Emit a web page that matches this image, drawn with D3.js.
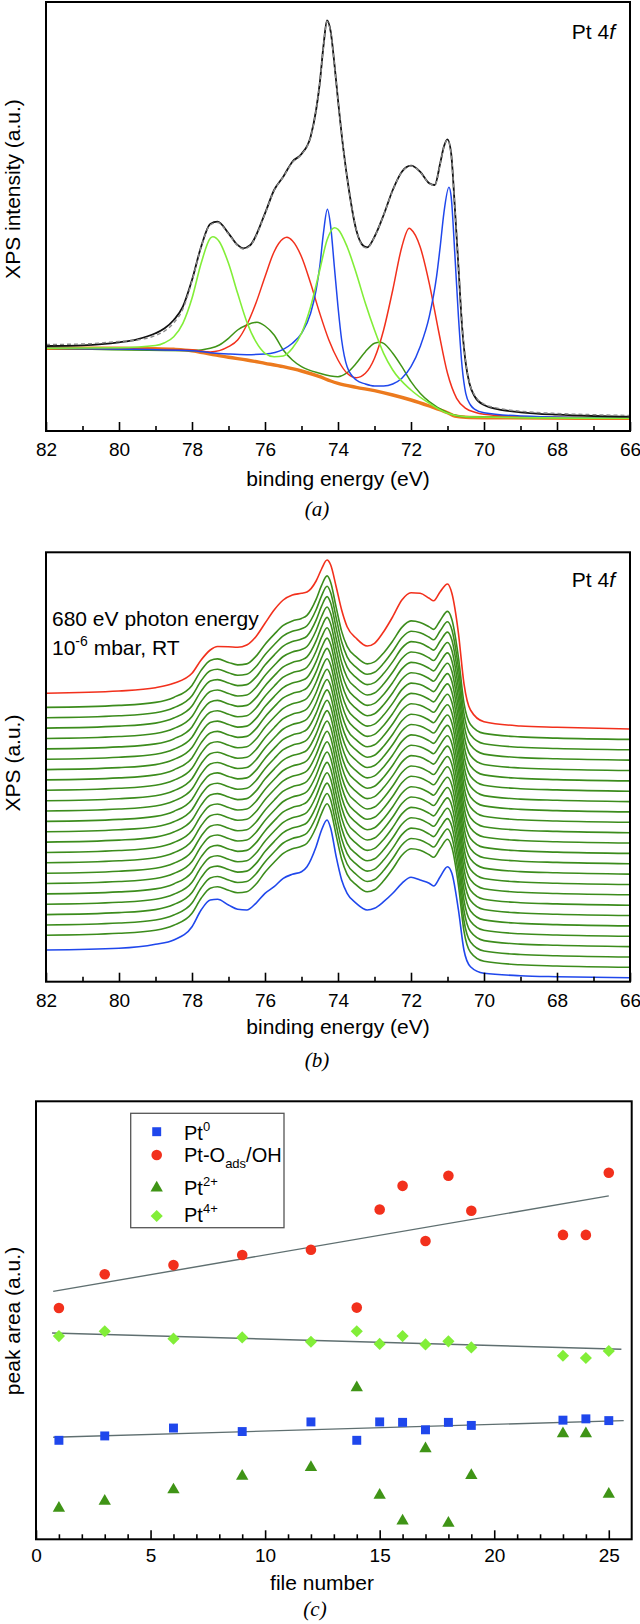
<!DOCTYPE html>
<html><head><meta charset="utf-8">
<script src="https://cdn.jsdelivr.net/npm/d3@7"></script>
<style>body{margin:0;background:#fff}</style>
</head><body>
<svg id="chart" width="640" height="1624" xmlns="http://www.w3.org/2000/svg"></svg>
<script>
// ---------------- Panel (a): Pt 4f fit ----------------
const envE = [82,81,80,79.5,79,78.75,78.5,78.25,78,77.75,77.5,77.3,77.0,76.75,76.6,76.4,76.0,75.75,75.5,75.25,75.0,74.75,74.6,74.5,74.4,74.3,74.2,74.1,74.0,73.85,73.7,73.5,73.3,73.2,73.0,72.75,72.5,72.25,72.0,71.75,71.5,71.35,71.2,71.1,71.0,70.9,70.8,70.7,70.6,70.5,70.4,70.25,70.0,69.5,69.0,68,67,66];
const envI = [85,85.7,88.7,91.7,97.7,102.7,111,124.3,151,184.3,207,209.3,197.7,186,182.7,186,217.7,241,254.3,269.3,277,294.3,321,347.7,384.3,410.5,399.3,367.7,331,281,241,201,185,183.7,194.3,216,241,259.3,265.3,259.3,247.7,246,267.7,284.3,291.7,277.7,224.3,164.3,104.3,67.7,47.7,34.3,26,21,18.7,16.3,15,14.3];
const fitI = [86.5,87,89.5,91,95.5,100,108,122,150,184,206,208.5,197,185.5,182,185.5,217,240.5,254,268.5,276.5,294,320.5,347,384,409.5,398.5,367,330.5,281,241.5,201.5,184,183,194,216,240.5,259,265,259,247.5,245.5,267,284,291,277,224.5,165,106,69,48.5,35.5,27,22,19.8,17.5,16.3,15.5];
const bgE = [82,80,79,78.5,78,77.5,77,76.5,76,75.5,75,74.5,74.2,74,73.5,73,72.5,72,71.5,71,70.8,70.5,70,66];
const bgI = [82.7,82.7,82.3,81.7,80.3,77,73.7,71,67.7,64.3,60,54.3,50,47.7,43.7,40.3,36,31,25,18.3,15,13.7,13.3,12.7];
const pt4E = [82,80,79,78.75,78.5,78.25,78,77.75,77.5,77.43,77.25,77,76.75,76.5,76.25,76,75.75,75.5,75.25,75,74.75,74.5,74.3,74.1,74,73.75,73.5,73.25,73,72.75,72.5,72,71.5,71,70.5,66];
const pt4I = [82.7,83.3,85.5,88.3,94.3,107.7,132.7,167.7,192.7,194.3,189.3,167.7,137.7,109.3,89.3,77.7,74.3,75,82.7,97.7,124.3,161,191,203.3,201.7,184.3,157.7,127.7,101,77.7,61,41,27.7,17.7,14.3,12.7];
const ptOE = [82,78,77.5,77,76.75,76.5,76.25,76,75.75,75.5,75.4,75.25,75,74.75,74.5,74.25,74,73.75,73.5,73.25,73,72.75,72.5,72.25,72.05,72,71.75,71.5,71.25,71,70.75,70.5,70.25,70,69,66];
const ptOI = [82.7,81,79,84.3,91,106,127.7,154.3,179.3,192.3,193.7,190.3,174.3,147.7,117.7,91,71,57.7,53.3,57.7,72.7,101,141,184.3,202.7,201.7,184.3,147.7,101,57.7,32.7,22.7,18.7,16.7,14.3,12.7];
const pt0E = [82,78,77.5,77,76.5,76,75.5,75.25,75,74.75,74.6,74.5,74.4,74.29,74.2,74.1,74,73.9,73.75,73.5,73.25,73,72.75,72.5,72.25,72,71.75,71.5,71.3,71.2,71.1,70.96,70.9,70.8,70.7,70.6,70.5,70.37,70.25,70,69,66];
const pt0I = [82.7,80.3,78.3,77,76.3,77,81.7,87.7,97.7,117.7,141,164.3,197.7,221.7,204.3,164.3,124.3,91,64.3,51,47,45,45,47,52.7,64.3,84.3,114.3,154.3,184.3,217.7,243.7,234.3,177.7,114.3,64.3,37.7,26,21.7,18.3,15,12.7];
const pt2E = [82,78,77.5,77.25,77,76.75,76.5,76.22,76,75.75,75.5,75.25,75,74.5,74,73.75,73.5,73.25,73,72.85,72.75,72.5,72.25,72,71.75,71.5,71,70.5,66];
const pt2I = [82.7,80.3,82.7,86,92.7,101,106,108.7,105,96,81,71,64.3,57.7,54.3,58.3,67.7,79.3,87.7,88.7,87.7,77.7,64.3,49.3,37.7,29.3,18.3,14.3,12.7];

// ---------------- Panel (b): stacked spectra ----------------
const specE = [82,80,79,78.5,78,77.75,77.5,77.3,77.0,76.75,76.5,76.25,76.0,75.75,75.5,75.25,75.0,74.85,74.6,74.45,74.3,74.2,74.05,73.9,73.75,73.5,73.2,73.0,72.75,72.5,72.25,72.0,71.75,71.5,71.38,71.2,71.0,70.88,70.7,70.55,70.37,70.0,69.0,68.0,66.0];
const specFirst = [27.7,29.4,33.4,37.7,51,67.7,77.7,78.4,72.7,68.4,67.7,74.4,84.4,91,99.4,103.4,106,111,131,147.7,157.7,149.4,121,97.7,84.4,74.4,67.7,69.4,76,84.4,94.4,100.4,97.7,94.4,91.7,101,111,104.4,67.7,27.7,11,4.4,2,1,0];
const specMid = [32,34,37,42,54,69,79,80.5,77,74.5,75.5,83,95,105,114,118.5,121,124,140,154,163.5,157,132,108,93,82.5,75.5,77.5,86.5,98.5,112,118.5,117,112.5,110,119,128,120,82,36.5,15,6,2.5,1.3,0];
const specLast = [35.7,38,41.3,45.7,55.7,69,79,82.5,82.3,81.7,84,92.3,105.7,119,129,134,135.7,137,148,160,169,164,142.3,119,102.3,90.7,83,85.7,97.3,112.3,129,136.3,135.7,130.7,128.3,137.3,145,135.7,95.7,45.7,19,7.3,3,1.7,0];
const specOffset = [4.0,14.4,24.7,35.1,45.4,55.8,66.2,76.5,86.9,97.2,107.6,118.0,128.3,138.7,149.0,159.4,169.8,180.1,190.5,200.8,211.2,221.6,231.9,242.3,252.7];

// ---------------- Panel (c): peak areas ----------------
const fileNum = [1,3,6,9,12,14,15,16,17,18,19,23,24,25];
const areaPt0 = [22.6,23.6,25.4,24.6,26.8,22.6,26.8,26.7,25.0,26.7,26.0,27.2,27.5,27.1];
const areaPtO = [52.8,60.5,62.6,64.9,66.1,52.9,75.3,80.7,68.1,83.0,75.0,69.5,69.5,83.7];
const areaPt2 = [7.1,8.7,11.3,14.4,16.4,34.6,10.1,4.2,20.7,3.7,14.6,24.1,24.1,10.3];
const areaPt4 = [46.4,47.5,45.8,46.1,45.1,47.5,44.6,46.4,44.5,45.2,43.8,41.9,41.4,43.0];
const fitLineX0 = [0.75,25.65], fitLine0 = [23.3,27.1];
const fitLineXO = [0.75,25.0],  fitLineO = [56.6,78.4];
const fitLineX4 = [0.7,25.55],  fitLine4 = [47.1,43.4];
const xTicksEnergy = [82,80,78,76,74,72,70,68,66];
const xMinorEnergy = [81,79,77,75,73,71,69,67];
const xTicksFile = [0,5,10,15,20,25];

// ---------------- drawing ----------------
const svg = d3.select('#chart');
const SANS = "'Liberation Sans', Arial, Helvetica, sans-serif";
const SERIF = "'Liberation Serif', 'Times New Roman', serif";
const C = {blue:'#1f47ec', red:'#f2301c', dgreen:'#3f9416', lgreen:'#82ee38', orange:'#ec7a1e', bgreen:'#3c8c1c'};

function zipE(E, I){ return E.map((e,i)=>[e, I[i]]); }

function frame(g, L, R, T, B){
  g.append('rect').attr('x',L).attr('y',T).attr('width',R-L).attr('height',B-T)
   .attr('fill','none').attr('stroke','#000').attr('stroke-width',2);
}
function xAxis(g, x, B, major, minor, pad){
  const a = g.append('g').attr('transform',`translate(0,${B})`)
    .call(d3.axisBottom(x).tickValues(major).tickSize(-9).tickPadding(pad).tickFormat(d3.format('d')));
  a.select('.domain').remove();
  a.selectAll('line').attr('stroke','#000').attr('stroke-width',1.6);
  a.selectAll('text').attr('font-family',SANS).attr('font-size',19).attr('fill','#000');
  const m = g.append('g').attr('transform',`translate(0,${B})`)
    .call(d3.axisBottom(x).tickValues(minor).tickSize(-5).tickFormat(''));
  m.select('.domain').remove();
  m.selectAll('line').attr('stroke','#000').attr('stroke-width',1.6);
}
function text(g, x, y, s, opts={}){
  return g.append('text').attr('x',x).attr('y',y).text(s)
    .attr('font-family',opts.family||SANS).attr('font-size',opts.size||21)
    .attr('text-anchor',opts.anchor||'middle').attr('fill','#000')
    .attr('font-style',opts.style||'normal');
}
function ylabel(g, x, y, s){
  g.append('text').attr('transform',`translate(${x},${y}) rotate(-90)`).text(s)
   .attr('font-family',SANS).attr('font-size',21).attr('text-anchor','middle').attr('fill','#000');
}
function pt4f(g, x, y){
  const t = g.append('text').attr('x',x).attr('y',y).attr('font-family',SANS).attr('font-size',21).attr('text-anchor','end');
  t.append('tspan').text('Pt 4');
  t.append('tspan').attr('font-style','italic').text('f');
}

// ---- Panel a ----
{
  const L=46,R=630,T=2,B=431;
  const g = svg.append('g');
  const x = d3.scaleLinear().domain([82,66]).range([L,R]);
  const y = d3.scaleLinear().domain([0,429]).range([B,T]);
  const line = d3.line().x(d=>x(d[0])).y(d=>y(d[1])).curve(d3.curveMonotoneX);
  g.append('clipPath').attr('id','clipA').append('rect').attr('x',L).attr('y',T).attr('width',R-L).attr('height',B-T);
  const p = g.append('g').attr('clip-path','url(#clipA)');
  p.append('path').datum(zipE(bgE,bgI)).attr('d',line).attr('fill','none').attr('stroke',C.orange).attr('stroke-width',3.4);
  p.append('path').datum(zipE(pt2E,pt2I)).attr('d',line).attr('fill','none').attr('stroke',C.dgreen).attr('stroke-width',1.5);
  p.append('path').datum(zipE(ptOE,ptOI)).attr('d',line).attr('fill','none').attr('stroke',C.red).attr('stroke-width',1.5);
  p.append('path').datum(zipE(pt0E,pt0I)).attr('d',line).attr('fill','none').attr('stroke',C.blue).attr('stroke-width',1.5);
  p.append('path').datum(zipE(pt4E,pt4I)).attr('d',line).attr('fill','none').attr('stroke',C.lgreen).attr('stroke-width',1.6);
  p.append('path').datum(zipE(envE,envI)).attr('d',line).attr('fill','none').attr('stroke','#111').attr('stroke-width',1.8);
  p.append('path').datum(zipE(envE,fitI)).attr('d',line).attr('fill','none').attr('stroke','#8a8a8a').attr('stroke-width',1.4).attr('stroke-dasharray','4,3');
  frame(g,L,R,T,B);
  xAxis(g,x,B,xTicksEnergy,xMinorEnergy,12);
  pt4f(g,615,39);
  ylabel(g,20,189,'XPS intensity (a.u.)');
  text(g,338,486,'binding energy (eV)');
  text(g,317,516,'(a)',{family:SERIF,style:'italic'});
}

// ---- Panel b ----
{
  const L=46,R=630,T=552.3,B=981.7;
  const g = svg.append('g');
  const x = d3.scaleLinear().domain([82,66]).range([L,R]);
  const y = d3.scaleLinear().domain([0,429.4]).range([B,T]);
  const n = specOffset.length;
  const line = d3.line().x(d=>x(d[0])).y(d=>y(d[1])).curve(d3.curveMonotoneX);
  const p = g.append('g');
  specOffset.forEach((off,i)=>{
    if(i===0||i===n-1) return;
    p.append('path').datum(specE.map((e,k)=>[e, off+specMid[k]])).attr('d',line)
      .attr('fill','none').attr('stroke',C.bgreen).attr('stroke-width',1.6);
  });
  p.append('path').datum(specE.map((e,k)=>[e, specOffset[0]+specFirst[k]])).attr('d',line)
    .attr('fill','none').attr('stroke',C.blue).attr('stroke-width',1.6);
  p.append('path').datum(specE.map((e,k)=>[e, specOffset[n-1]+specLast[k]])).attr('d',line)
    .attr('fill','none').attr('stroke',C.red).attr('stroke-width',1.6);
  frame(g,L,R,T,B);
  xAxis(g,x,B,xTicksEnergy,xMinorEnergy,12);
  pt4f(g,615,587);
  text(g,52,626,'680 eV photon energy',{anchor:'start'});
  const t2 = g.append('text').attr('x',52).attr('y',655).attr('font-family',SANS).attr('font-size',21);
  t2.append('tspan').text('10');
  t2.append('tspan').attr('font-size',14).attr('dy',-9).text('-6');
  t2.append('tspan').attr('dy',9).text(' mbar, RT');
  ylabel(g,20,763,'XPS (a.u.)');
  text(g,338,1034,'binding energy (eV)');
  text(g,317,1067,'(b)',{family:SERIF,style:'italic'});
}

// ---- Panel c ----
{
  const L=36,R=631.7,T=1101.3,B=1539.3;
  const g = svg.append('g');
  const x = d3.scaleLinear().domain([0,26]).range([L,R]);
  const y = d3.scaleLinear().domain([0,100]).range([B,T]);
  const fl = d3.line().x(d=>x(d[0])).y(d=>y(d[1]));
  [[fitLineXO,fitLineO],[fitLineX4,fitLine4],[fitLineX0,fitLine0]].forEach(([fx,fy])=>{
    g.append('path').datum(fx.map((v,i)=>[v,fy[i]])).attr('d',fl).attr('fill','none')
      .attr('stroke','#5f6f70').attr('stroke-width',1.4);
  });
  const sq = d3.symbol().type(d3.symbolSquare).size(80)();
  const ci = d3.symbol().type(d3.symbolCircle).size(88)();
  const tr = d3.symbol().type(d3.symbolTriangle).size(66)();
  const di = d3.symbol().type(d3.symbolSquare).size(74)();
  const series = [
    {v:areaPt2, path:tr, color:C.dgreen, rot:0},
    {v:areaPt4, path:di, color:C.lgreen, rot:45},
    {v:areaPt0, path:sq, color:C.blue, rot:0},
    {v:areaPtO, path:ci, color:C.red, rot:0}
  ];
  series.forEach(s=>{
    g.append('g').selectAll('path').data(fileNum.map((f,i)=>[f,s.v[i]])).join('path')
      .attr('d',s.path).attr('fill',s.color)
      .attr('transform',d=>`translate(${x(d[0])},${y(d[1])}) rotate(${s.rot})`);
  });
  frame(g,L,R,T,B);
  xAxis(g,x,B,xTicksFile,d3.range(1,26).filter(v=>v%5!==0),9);
  ylabel(g,20,1321,'peak area (a.u.)');
  text(g,322,1590,'file number');
  text(g,315,1616,'(c)',{family:SERIF,style:'italic'});
  // legend
  const lg = g.append('g');
  lg.append('rect').attr('x',130.7).attr('y',1113.3).attr('width',153.3).attr('height',114.4)
    .attr('fill','#fff').attr('stroke','#555').attr('stroke-width',1.3);
  const rows = [
    {path:sq, color:C.blue, rot:0, my:1131.7, ty:1139.5, parts:[['Pt',0],['0',-9,13],['',9]]},
    {path:ci, color:C.red, rot:0, my:1155, ty:1161.5, parts:[['Pt-O',0],['ads',6,13],['/OH',-6]]},
    {path:tr, color:C.dgreen, rot:0, my:1188, ty:1195, parts:[['Pt',0],['2+',-9,13],['',9]]},
    {path:di, color:C.lgreen, rot:45, my:1216, ty:1222, parts:[['Pt',0],['4+',-9,13],['',9]]}
  ];
  rows.forEach(r=>{
    lg.append('path').attr('d',r.path).attr('fill',r.color).attr('transform',`translate(156.7,${r.my}) rotate(${r.rot})`);
    const t = lg.append('text').attr('x',184).attr('y',r.ty).attr('font-family',SANS).attr('font-size',20);
    r.parts.forEach(pp=>{
      const ts = t.append('tspan').text(pp[0]).attr('dy',pp[1]);
      if(pp[2]) ts.attr('font-size',pp[2]);
    });
  });
}
</script>
</body></html>
